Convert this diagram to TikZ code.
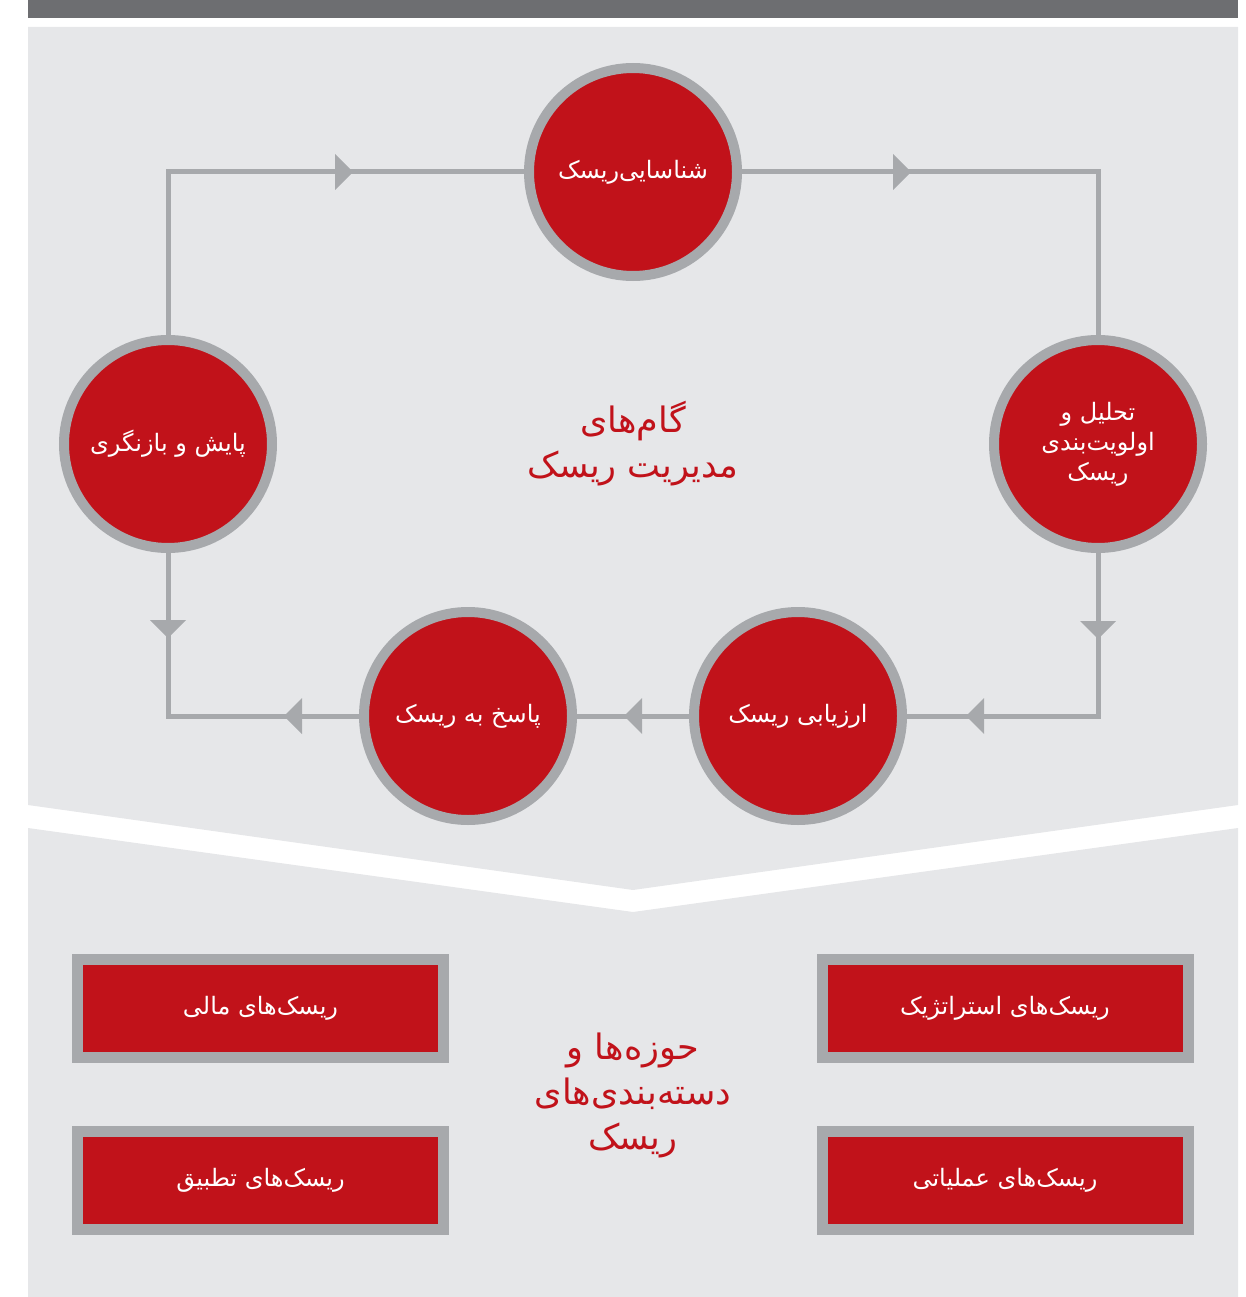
\documentclass[tikz,border=0pt]{standalone}
\usepackage{fontspec}
\usetikzlibrary{arrows.meta,decorations.markings}
\TeXXeTstate=1
\newfontfamily\arabicfont[Script=Arabic]{DejaVu Sans}
\definecolor{rred}{HTML}{C1121A}
\definecolor{ringgray}{HTML}{A7A9AC}
\definecolor{panelgray}{HTML}{E6E7E9}
\definecolor{bargray}{HTML}{6D6E71}
\tikzset{
  stepcircle/.style={circle, fill=rred, draw=ringgray, line width=10pt,
    minimum size=208pt, inner sep=0pt, text=white, align=center,
    font=\arabicfont\fontsize{24}{30}\selectfont},
  catbox/.style={rectangle, fill=rred, draw=ringgray, line width=11pt,
    minimum width=366pt, minimum height=98pt, inner sep=0pt, text=white,
    font=\arabicfont\fontsize{24}{30}\selectfont},
  titletext/.style={text=rred, align=center,
    font=\arabicfont\fontsize{35}{45}\selectfont},
  conn/.style={draw=ringgray, line width=5pt},
  tip/.tip={Triangle[width=36pt,length=18pt,line width=0pt]},
}
\begin{document}
\begin{tikzpicture}[x=1pt,y=-1pt]
\useasboundingbox (0,0) rectangle (1246,1297);
% background panels
\fill[bargray] (28,0) rectangle (1238,18);
\fill[panelgray] (28,27) -- (1238,27) -- (1238,805) -- (633,890) -- (28,805) -- cycle;
\fill[panelgray] (28,828) -- (633,912) -- (1238,828) -- (1238,1297) -- (28,1297) -- cycle;
% step circles
\node[stepcircle] (T)  at (633,172) {\beginR شناسایی^^^^200cریسک\endR};
\node[stepcircle] (R)  at (1098,444) {\beginR تحلیل و\endR\\\beginR اولویت^^^^200cبندی\endR\\\beginR ریسک\endR};
\node[stepcircle] (BR) at (798,716) {\beginR ارزیابی ریسک\endR};
\node[stepcircle] (BL) at (468,716) {\beginR پاسخ به ریسک\endR};
\node[stepcircle] (L)  at (168,444) {\beginR پایش و بازنگری\endR};
\node[titletext] (title) at (633,444) {\beginR گام^^^^200cهای\endR\\\beginR مدیریت ریسک\endR};
% connectors
\draw[conn, postaction={decorate}, decoration={markings,
  mark=at position -171pt with {\arrow{tip}}}] (L.north) |- (T.west);
\draw[conn, postaction={decorate}, decoration={markings,
  mark=at position 169pt with {\arrow{tip}}}] (T.east) -| (R.north);
\draw[conn, postaction={decorate}, decoration={markings,
  mark=at position 86pt with {\arrow{tip}},
  mark=at position -59pt with {\arrow{tip}}}] (R.south) |- (BR.east);
\draw[conn, postaction={decorate}, decoration={markings,
  mark=at position 65pt with {\arrow{tip}}}] (BR.west) -- (BL.east);
\draw[conn, postaction={decorate}, decoration={markings,
  mark=at position 75pt with {\arrow{tip}},
  mark=at position 269pt with {\arrowreversed{tip}}}] (BL.west) -| (L.south);
% categories
\node[catbox] (fin)  at (260.5,1008.5) {\beginR ریسک^^^^200cهای مالی\endR};
\node[catbox] (str)  at (1005,1008.5) {\beginR ریسک^^^^200cهای استراتژیک\endR};
\node[catbox] (comp) at (260.5,1180.5) {\beginR ریسک^^^^200cهای تطبیق\endR};
\node[catbox] (ops)  at (1005,1180.5) {\beginR ریسک^^^^200cهای عملیاتی\endR};
\node[titletext] (areas) at (633,1095) {\beginR حوزه^^^^200cها و\endR\\\beginR دسته^^^^200cبندی^^^^200cهای\endR\\\beginR ریسک\endR};
\end{tikzpicture}
\end{document}
